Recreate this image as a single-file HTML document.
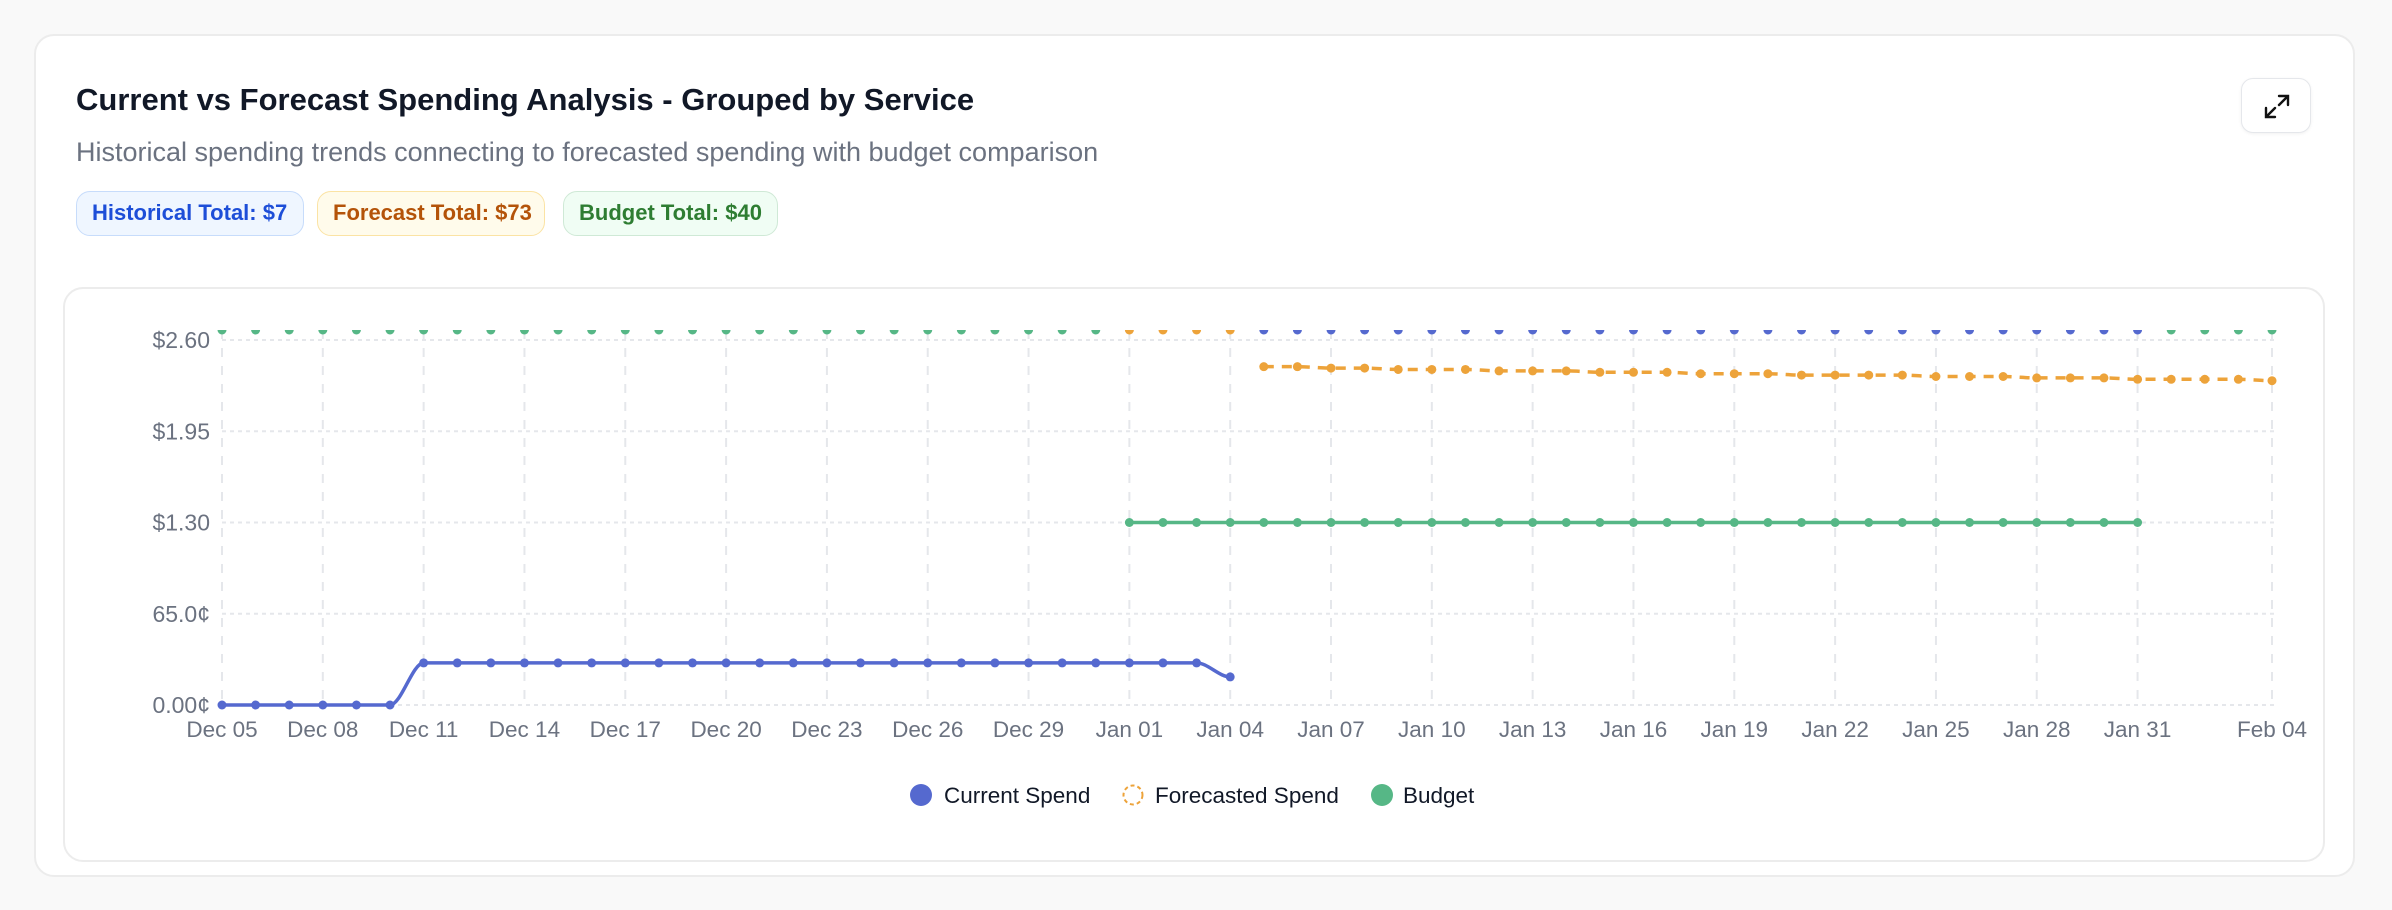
<!DOCTYPE html>
<html><head><meta charset="utf-8"><style>
html,body{margin:0;padding:0;background:#f9f9f9;width:2392px;height:910px;overflow:hidden;font-family:"Liberation Sans",sans-serif}
.card{position:absolute;left:34px;top:34px;width:2321px;height:843px;background:#fff;border:2px solid #ececec;border-radius:20px;box-sizing:border-box}
.title{position:absolute;left:76px;top:82px;font-size:31px;font-weight:bold;color:#111827}
.sub{position:absolute;left:76px;top:137px;font-size:27px;color:#6b7280}
.badge{position:absolute;top:191px;height:45px;box-sizing:border-box;border-radius:14px;font-size:22px;font-weight:bold;line-height:42px;padding:0 15px;border:1.5px solid;white-space:nowrap}
.exp{position:absolute;left:2241px;top:78px;width:70px;height:55px;border:1.5px solid #e5e7eb;border-radius:12px;background:#fff;box-sizing:border-box;box-shadow:0 1px 3px rgba(0,0,0,.06)}
.inner{position:absolute;left:63px;top:287px;width:2262px;height:575px;border:2px solid #ececec;border-radius:20px;box-sizing:border-box}
svg{position:absolute;left:0;top:0}
</style></head><body>
<div class="card"></div>
<div class="title">Current vs Forecast Spending Analysis - Grouped by Service</div>
<div class="sub">Historical spending trends connecting to forecasted spending with budget comparison</div>
<div class="badge" style="left:76px;width:228px;background:#eff6ff;border-color:#c7dcfb;color:#1d4ed8">Historical Total: $7</div>
<div class="badge" style="left:317px;width:228px;background:#fffbeb;border-color:#fbe3a4;color:#b45309">Forecast Total: $73</div>
<div class="badge" style="left:563px;width:215px;background:#f0fdf4;border-color:#cfe9d6;color:#2e7d32">Budget Total: $40</div>
<div class="exp"><svg width="70" height="55" viewBox="0 0 70 55"><g stroke="#111" stroke-width="2.4" fill="none" stroke-linecap="round"><path d="M37 17h9v9M46 17l-9 9M33 38h-9v-9M24 38l9-9"/></g></svg></div>
<div class="inner"></div>
<svg id="chart" width="2392" height="910"></svg>
<script>
const yTicks=[0,0.65,1.30,1.95,2.60];
const yLabels=["0.00¢","65.0¢","$1.30","$1.95","$2.60"];
const xTickDays=[0,3,6,9,12,15,18,21,24,27,30,33,36,39,42,45,48,51,54,57,61];
const xLabels=["Dec 05","Dec 08","Dec 11","Dec 14","Dec 17","Dec 20","Dec 23","Dec 26","Dec 29","Jan 01","Jan 04","Jan 07","Jan 10","Jan 13","Jan 16","Jan 19","Jan 22","Jan 25","Jan 28","Jan 31","Feb 04"];
const currentStart=0;
const currentVals=[0,0,0,0,0,0,0.30,0.30,0.30,0.30,0.30,0.30,0.30,0.30,0.30,0.30,0.30,0.30,0.30,0.30,0.30,0.30,0.30,0.30,0.30,0.30,0.30,0.30,0.30,0.30,0.20];
const budgetStart=27;
const budgetVals=[1.30,1.30,1.30,1.30,1.30,1.30,1.30,1.30,1.30,1.30,1.30,1.30,1.30,1.30,1.30,1.30,1.30,1.30,1.30,1.30,1.30,1.30,1.30,1.30,1.30,1.30,1.30,1.30,1.30,1.30,1.30];
const forecastStart=31;
const forecastVals=[2.41,2.41,2.40,2.40,2.39,2.39,2.39,2.38,2.38,2.38,2.37,2.37,2.37,2.36,2.36,2.36,2.35,2.35,2.35,2.35,2.34,2.34,2.34,2.33,2.33,2.33,2.32,2.32,2.32,2.32,2.31];
const clippedColors=[];for(let i=0;i<=61;i++){clippedColors.push(i<27?"g":i<31?"o":i<58?"b":"g");}
const C={b:"#5569cf",o:"#eda33a",g:"#56b786"};
const X0=222,X1=2272,Y0=705,Y1=340;
const x=d=>X0+(X1-X0)*d/61;
const y=v=>Y0-(Y0-Y1)*v/2.6;
const svg=document.getElementById('chart');const NS="http://www.w3.org/2000/svg";
function mk(t,a,p){const e=document.createElementNS(NS,t);for(const k in a)e.setAttribute(k,a[k]);(p||svg).appendChild(e);return e;}
yTicks.forEach((v,i)=>{
 const l=mk('line',{x1:X0,x2:X1+6,y1:y(v),y2:y(v),stroke:'#e5e7eb','stroke-width':2,'stroke-dasharray':'4 4'});
 
 
 const t=mk('text',{x:210,y:y(v)+8,'text-anchor':'end','font-size':23,fill:'#6b7280'});t.textContent=yLabels[i];
 
 
});
xTickDays.forEach((d,i)=>{
 const l=mk('line',{x1:x(d),x2:x(d),y1:Y1-10,y2:Y0,stroke:'#e5e7eb','stroke-width':2,'stroke-dasharray':'9 9'});
 
 
 const t=mk('text',{x:x(d),y:737,'text-anchor':'middle','font-size':22.5,fill:'#6b7280'});t.textContent=xLabels[i];
 
 
});
clippedColors.forEach((c,i)=>{
 const p=mk('path',{d:`M${x(i)-4.5} 330 a4.5 4.5 0 0 0 9 0 z`,fill:C[c]});
 
 
});
function series(vals,start,col,dash,name){
 let d='';vals.forEach((v,i)=>{const px=x(start+i),py=y(v);if(i===0)d=`M${px} ${py}`;else{const qx=x(start+i-1),qy=y(vals[i-1]);const dx=(px-qx)/3;d+=` C${qx+dx} ${qy} ${px-dx} ${py} ${px} ${py}`;}});
 const p=mk('path',{d,fill:'none',stroke:col,'stroke-width':3.5});if(dash)p.setAttribute('stroke-dasharray',dash);
 
 
 vals.forEach((v,i)=>{const c=mk('circle',{cx:x(start+i),cy:y(v),r:4.5,fill:col});
  
  });
}
series(budgetVals,budgetStart,C.g,null,'budget');
series(forecastVals,forecastStart,C.o,'10 8','forecast');
series(currentVals,currentStart,C.b,null,'current-spend');
const lg=[[921,944,'Current Spend','b',false],[1133,1155,'Forecasted Spend','o',true],[1382,1403,'Budget','g',false]];
lg.forEach(L=>{
 const c=L[4]?mk('circle',{cx:L[0],cy:795,r:9.5,fill:'#fff',stroke:C[L[3]],'stroke-width':2,'stroke-dasharray':'4 3'}):mk('circle',{cx:L[0],cy:795,r:11,fill:C[L[3]]});
 
 
 const t=mk('text',{x:L[1],y:803,'font-size':22.5,fill:'#111827'});t.textContent=L[2];
 
 
});
</script>
</body></html>
